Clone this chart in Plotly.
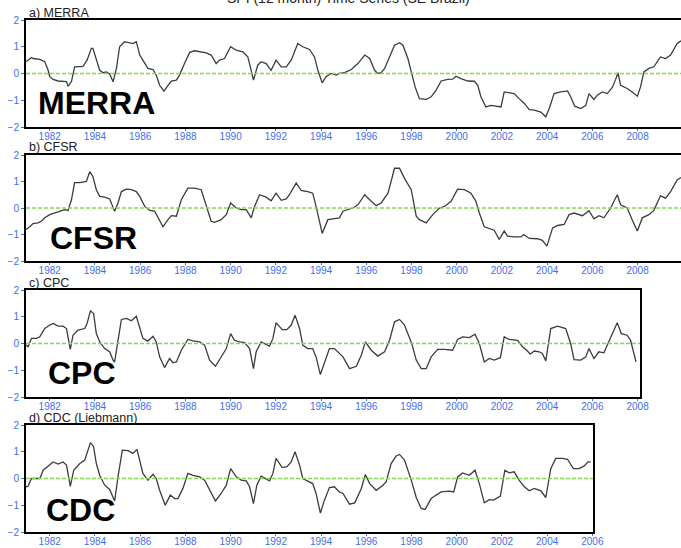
import plotly.graph_objects as go

W, H = 681, 548

# ---------------- data (decimal year, SPI value) ----------------
merra_t = [1980.95, 1981.19, 1981.26, 1981.56, 1981.78, 1981.93, 1982.00, 1982.15, 1982.37, 1982.59,
           1982.74, 1982.81, 1982.96, 1983.10, 1983.33, 1983.47, 1983.65, 1983.84, 1983.91, 1984.06,
           1984.21, 1984.36, 1984.50, 1984.65, 1984.80, 1984.95, 1985.09, 1985.31, 1985.46, 1985.68,
           1985.83, 1985.98, 1986.12, 1986.34, 1986.57, 1986.71, 1986.86, 1987.05, 1987.23, 1987.38,
           1987.60, 1987.74, 1987.96, 1988.19, 1988.41, 1988.63, 1988.92, 1989.14, 1989.36, 1989.51,
           1989.73, 1990.00, 1990.25, 1990.54, 1990.76, 1990.91, 1991.01, 1991.20, 1991.35, 1991.57,
           1991.79, 1992.01, 1992.24, 1992.46, 1992.68, 1992.97, 1993.19, 1993.49, 1993.71, 1993.86,
           1994.05, 1994.22, 1994.44, 1994.67, 1994.80, 1995.04, 1995.34, 1995.63, 1995.93, 1996.15,
           1996.37, 1996.51, 1996.66, 1996.81, 1997.03, 1997.25, 1997.47, 1997.62, 1997.84, 1998.01,
           1998.16, 1998.35, 1998.65, 1998.87, 1999.09, 1999.31, 1999.60, 1999.82, 1999.97, 2000.19,
           2000.49, 2000.78, 2000.93, 2001.07, 2001.29, 2001.51, 2001.74, 2001.96, 2002.10, 2002.32,
           2002.54, 2002.76, 2002.99, 2003.21, 2003.43, 2003.72, 2003.94, 2004.09, 2004.31, 2004.60,
           2004.90, 2005.04, 2005.22, 2005.49, 2005.71, 2005.85, 2006.07, 2006.22, 2006.44, 2006.66,
           2006.88, 2007.03, 2007.13, 2007.25, 2007.54, 2007.76, 2007.99, 2008.13, 2008.28, 2008.50,
           2008.72, 2009.01, 2009.24, 2009.46, 2009.75, 2009.92]
merra_v = [0.44, 0.60, 0.56, 0.53, 0.44, 0.12, -0.12, -0.22, -0.28, -0.29,
           -0.30, -0.48, -0.30, 0.25, 0.25, 0.27, 0.50, 0.94, 0.94, 0.50,
           0.12, 0.03, 0.06, -0.02, -0.31, 0.19, 1.00, 1.19, 1.15, 1.12,
           1.19, 0.69, 0.50, 0.19, 0.15, -0.06, -0.44, -0.66, -0.44, -0.28,
           -0.25, -0.06, 0.37, 0.79, 0.85, 0.81, 0.77, 0.69, 0.37, 0.50,
           0.56, 1.00, 0.87, 0.81, 0.62, 0.12, -0.25, 0.31, 0.44, 0.37,
           0.12, 0.50, 0.25, 0.25, 0.50, 1.12, 1.00, 0.90, 0.62, 0.12,
           -0.35, -0.12, 0.00, -0.06, 0.00, 0.03, 0.15, 0.37, 0.69, 0.56,
           0.12, 0.00, 0.03, 0.19, 0.62, 1.06, 1.15, 1.06, 0.56, 0.00,
           -0.50, -0.94, -0.97, -0.87, -0.62, -0.28, -0.22, -0.21, -0.10, -0.19,
           -0.28, -0.29, -0.44, -0.87, -1.25, -1.19, -1.22, -1.25, -0.69, -0.72,
           -0.75, -0.94, -1.12, -1.35, -1.37, -1.44, -1.62, -1.31, -0.75, -0.69,
           -0.65, -0.87, -1.22, -1.31, -1.19, -0.75, -0.97, -0.81, -0.69, -0.75,
           -0.52, -0.22, 0.03, -0.44, -0.56, -0.69, -0.85, -0.50, 0.06, 0.19,
           0.25, 0.62, 0.56, 0.69, 1.12, 1.22]

cfsr_t = [1980.95, 1981.12, 1981.26, 1981.48, 1981.63, 1981.78, 1982.00, 1982.22, 1982.44, 1982.66,
          1982.81, 1982.96, 1983.10, 1983.33, 1983.62, 1983.77, 1983.91, 1984.06, 1984.21, 1984.43,
          1984.65, 1984.80, 1984.87, 1985.02, 1985.17, 1985.39, 1985.61, 1985.83, 1985.98, 1986.20,
          1986.42, 1986.64, 1986.86, 1987.01, 1987.23, 1987.38, 1987.60, 1987.82, 1988.11, 1988.41,
          1988.70, 1988.92, 1989.14, 1989.29, 1989.58, 1989.81, 1990.00, 1990.25, 1990.47, 1990.69,
          1990.91, 1991.06, 1991.28, 1991.57, 1991.79, 1992.01, 1992.24, 1992.46, 1992.60, 1992.90,
          1993.12, 1993.41, 1993.63, 1993.78, 1994.05, 1994.30, 1994.52, 1994.81, 1994.97, 1995.19,
          1995.41, 1995.63, 1995.93, 1996.15, 1996.44, 1996.66, 1996.96, 1997.25, 1997.47, 1997.69,
          1997.99, 1998.21, 1998.35, 1998.65, 1998.94, 1999.24, 1999.46, 1999.75, 2000.04, 2000.34,
          2000.63, 2000.85, 2001.00, 2001.22, 2001.44, 2001.66, 2001.88, 2002.03, 2002.10, 2002.25,
          2002.54, 2002.84, 2002.96, 2003.21, 2003.57, 2003.79, 2003.99, 2004.24, 2004.46, 2004.75,
          2004.97, 2005.19, 2005.56, 2005.85, 2006.07, 2006.29, 2006.51, 2006.81, 2007.10, 2007.25,
          2007.54, 2007.76, 2007.99, 2008.21, 2008.50, 2008.72, 2009.01, 2009.24, 2009.46, 2009.75,
          2009.92]
cfsr_v = [-0.81, -0.71, -0.59, -0.56, -0.50, -0.37, -0.25, -0.19, -0.12, -0.06,
          -0.09, 0.31, 0.96, 0.96, 1.00, 1.37, 1.19, 0.69, 0.44, 0.41,
          0.34, 0.06, -0.12, 0.19, 0.62, 0.71, 0.69, 0.62, 0.44, 0.06,
          -0.09, -0.12, -0.50, -0.71, -0.44, -0.29, -0.31, 0.31, 0.75, 0.75,
          0.69, 0.12, -0.50, -0.54, -0.44, -0.25, 0.19, 0.00, -0.06, -0.06,
          -0.37, 0.06, 0.50, 0.41, 0.27, 0.56, 0.29, 0.34, 0.50, 0.94,
          0.66, 0.62, 0.56, 0.06, -0.96, -0.44, -0.41, -0.37, -0.12, -0.06,
          0.00, 0.12, 0.50, 0.31, 0.09, 0.19, 0.56, 1.50, 1.50, 1.12,
          0.69, -0.31, -0.44, -0.56, -0.25, 0.00, 0.06, 0.25, 0.71, 0.69,
          0.56, 0.25, -0.19, -0.71, -0.79, -0.84, -1.19, -1.00, -0.87, -1.06,
          -1.09, -1.09, -1.00, -1.15, -1.16, -1.22, -1.44, -0.75, -0.66, -0.62,
          -0.25, -0.19, -0.29, -0.10, -0.41, -0.29, -0.37, 0.00, 0.50, 0.12,
          0.00, -0.44, -0.87, -0.37, -0.25, -0.09, 0.46, 0.37, 0.62, 1.06,
          1.15]

cpc_t = [1980.95, 1981.04, 1981.19, 1981.41, 1981.56, 1981.78, 1982.00, 1982.15, 1982.37, 1982.59,
         1982.74, 1982.91, 1983.03, 1983.25, 1983.55, 1983.65, 1983.80, 1983.94, 1984.06, 1984.21,
         1984.43, 1984.65, 1984.80, 1984.87, 1985.02, 1985.17, 1985.39, 1985.61, 1985.83, 1985.98,
         1986.12, 1986.34, 1986.57, 1986.71, 1986.86, 1987.08, 1987.30, 1987.45, 1987.60, 1987.82,
         1988.11, 1988.33, 1988.63, 1988.85, 1989.07, 1989.33, 1989.58, 1989.81, 1990.00, 1990.17,
         1990.39, 1990.62, 1990.84, 1991.01, 1991.13, 1991.35, 1991.72, 1991.87, 1992.01, 1992.28,
         1992.49, 1992.68, 1992.85, 1993.05, 1993.19, 1993.41, 1993.63, 1993.78, 1993.97, 1994.15,
         1994.37, 1994.59, 1994.81, 1994.97, 1995.26, 1995.56, 1995.78, 1995.96, 1996.22, 1996.51,
         1996.81, 1997.03, 1997.25, 1997.47, 1997.69, 1998.01, 1998.21, 1998.43, 1998.65, 1998.87,
         1999.16, 1999.46, 1999.82, 2000.04, 2000.26, 2000.56, 2000.81, 2001.00, 2001.22, 2001.44,
         2001.66, 2001.93, 2002.10, 2002.32, 2002.69, 2002.91, 2003.13, 2003.25, 2003.43, 2003.65,
         2003.79, 2003.94, 2004.16, 2004.46, 2004.82, 2005.04, 2005.19, 2005.49, 2005.71, 2005.85,
         2006.07, 2006.29, 2006.51, 2006.81, 2007.10, 2007.28, 2007.54, 2007.69, 2007.93]
cpc_v = [-0.06, -0.12, 0.19, 0.19, 0.25, 0.56, 0.69, 0.75, 0.65, 0.65,
         0.56, -0.22, 0.31, 0.50, 0.56, 0.75, 1.22, 1.12, 0.37, 0.06,
         -0.19, -0.31, -0.62, -0.69, 0.12, 0.90, 0.94, 0.85, 1.02, 0.56,
         0.19, 0.09, 0.27, 0.06, -0.50, -0.90, -0.56, -0.72, -0.69, -0.25,
         0.15, 0.10, 0.06, -0.06, -0.62, -0.85, -0.50, -0.19, 0.37, 0.12,
         0.06, 0.03, -0.19, -0.94, -0.31, 0.06, -0.10, 0.19, 0.78, 0.52,
         0.52, 0.69, 1.06, 0.56, -0.06, -0.19, -0.19, -0.50, -1.16, -0.75,
         -0.19, -0.19, -0.35, -0.50, -0.94, -0.85, -0.44, 0.06, -0.25, -0.47,
         -0.31, 0.12, 0.81, 0.90, 0.69, 0.00, -0.62, -0.94, -0.94, -0.50,
         -0.22, -0.22, -0.25, 0.15, 0.25, 0.22, 0.35, 0.00, -0.69, -0.56,
         -0.62, -0.53, 0.25, 0.15, 0.12, -0.12, -0.28, -0.40, -0.28, -0.31,
         -0.37, -0.65, 0.56, 0.65, 0.56, 0.00, -0.60, -0.62, -0.50, -0.19,
         -0.56, -0.31, -0.35, 0.25, 0.78, 0.37, 0.31, 0.12, -0.69]

cdc_t = [1980.95, 1981.04, 1981.19, 1981.41, 1981.56, 1981.71, 1982.00, 1982.15, 1982.37, 1982.59,
         1982.74, 1982.91, 1983.06, 1983.33, 1983.55, 1983.65, 1983.80, 1983.94, 1984.06, 1984.21,
         1984.43, 1984.65, 1984.87, 1985.02, 1985.21, 1985.46, 1985.68, 1985.86, 1985.98, 1986.12,
         1986.34, 1986.57, 1986.71, 1986.86, 1987.11, 1987.33, 1987.52, 1987.67, 1987.89, 1988.11,
         1988.33, 1988.63, 1988.85, 1989.07, 1989.33, 1989.58, 1989.81, 1990.00, 1990.25, 1990.47,
         1990.69, 1990.84, 1991.01, 1991.16, 1991.35, 1991.72, 1991.87, 1992.01, 1992.28, 1992.49,
         1992.68, 1992.85, 1993.05, 1993.19, 1993.41, 1993.63, 1993.78, 1993.97, 1994.15, 1994.37,
         1994.59, 1994.81, 1994.97, 1995.26, 1995.49, 1995.78, 1995.96, 1996.15, 1996.44, 1996.74,
         1996.88, 1997.10, 1997.32, 1997.47, 1997.69, 1997.99, 1998.21, 1998.43, 1998.60, 1998.87,
         1999.09, 1999.31, 1999.68, 1999.87, 2000.04, 2000.26, 2000.56, 2000.81, 2001.00, 2001.22,
         2001.44, 2001.63, 2001.93, 2002.13, 2002.32, 2002.54, 2002.76, 2002.99, 2003.21, 2003.43,
         2003.72, 2003.94, 2004.16, 2004.38, 2004.68, 2004.90, 2005.16, 2005.41, 2005.63, 2005.81,
         2005.93]
cdc_v = [-0.31, -0.29, 0.00, 0.00, 0.00, 0.31, 0.50, 0.62, 0.54, 0.62,
         0.50, -0.29, 0.31, 0.56, 0.69, 0.94, 1.34, 1.19, 0.56, 0.12,
         -0.25, -0.41, -0.84, 0.06, 1.06, 1.04, 0.94, 1.09, 0.69, 0.19,
         -0.06, 0.16, 0.00, -0.44, -1.00, -0.62, -0.75, -0.75, -0.37, 0.19,
         0.12, 0.06, -0.06, -0.44, -0.84, -0.56, -0.25, 0.37, 0.06, -0.06,
         -0.09, -0.31, -0.94, -0.25, 0.09, -0.09, 0.19, 0.75, 0.41, 0.44,
         0.62, 1.00, 0.50, 0.00, -0.09, -0.19, -0.56, -1.29, -0.81, -0.34,
         -0.31, -0.50, -0.56, -0.96, -0.91, -0.37, 0.15, -0.19, -0.44, -0.25,
         -0.12, 0.56, 0.84, 0.90, 0.69, -0.06, -0.71, -1.12, -1.16, -0.75,
         -0.62, -0.50, -0.47, -0.50, 0.06, 0.21, 0.12, 0.31, -0.19, -0.91,
         -0.79, -0.81, -0.66, 0.31, 0.21, 0.25, -0.06, -0.31, -0.46, -0.37,
         -0.46, -0.71, 0.37, 0.75, 0.75, 0.72, 0.37, 0.37, 0.46, 0.62,
         0.62]

year_ticks = [1982, 1984, 1986, 1988, 1990, 1992, 1994, 1996, 1998, 2000, 2002, 2004, 2006, 2008]
y_ticks = [-2, -1, 0, 1, 2]
y_labels = ["\u22122", "\u22121", "0", "1", "2"]

panel_titles = ["a) MERRA", "b) CFSR", "c) CPC", "d) CDC (Liebmann)"]
big_labels = ["MERRA", "CFSR", "CPC", "CDC"]
main_title = "SPI (12 month) Time Series (SE Brazil)"

# ---------------- layout geometry (pixels) ----------------
series = [(merra_t, merra_v), (cfsr_t, cfsr_v), (cpc_t, cpc_v), (cdc_t, cdc_v)]
left_px = 26
right_px = [681, 681, 640, 593]
top_px = [20, 155, 290, 425]
bot_px = [127, 261, 397, 532]
x0 = 1980.95
px_per_year = 655 / (2009.92 - 1980.95)
label_px = [(36, 103), (48, 238), (46, 373), (44, 510)]

TICKBLUE = "#3f6ef0"
fig = go.Figure()
annotations = []
for i, (t, v) in enumerate(series):
    xa = "x" if i == 0 else f"x{i+1}"
    ya = "y" if i == 0 else f"y{i+1}"
    x1 = x0 + (right_px[i] - left_px) / px_per_year
    fig.add_trace(go.Scatter(x=t, y=v, mode="lines", xaxis=xa, yaxis=ya,
                             line=dict(color="#3c3c3c", width=1.3), showlegend=False,
                             hoverinfo="skip"))
    fig.add_trace(go.Scatter(x=[x0, x1], y=[0, 0], mode="lines", xaxis=xa, yaxis=ya,
                             line=dict(color="#84d94a", width=1.5, dash="4px,2px"),
                             showlegend=False, hoverinfo="skip"))
    xkey = "xaxis" if i == 0 else f"xaxis{i+1}"
    ykey = "yaxis" if i == 0 else f"yaxis{i+1}"
    fig.update_layout(**{
        xkey: dict(domain=[left_px / W, right_px[i] / W], range=[x0, x1], anchor=ya,
                   tickvals=year_ticks, ticktext=[str(y) for y in year_ticks],
                   ticks="outside", ticklen=2, tickcolor=TICKBLUE, tickwidth=1,
                   ticklabelstandoff=-3,
                   tickfont=dict(family="Liberation Sans, Arial", size=10, color=TICKBLUE),
                   showgrid=False, zeroline=False, showline=True, linecolor="black",
                   linewidth=2, mirror=True, fixedrange=True, automargin=False),
        ykey: dict(domain=[1 - bot_px[i] / H, 1 - top_px[i] / H], range=[-2, 2], anchor=xa,
                   tickvals=y_ticks, ticktext=y_labels,
                   ticks="outside", ticklen=3, tickcolor=TICKBLUE, tickwidth=1,
                   tickfont=dict(family="Liberation Sans, Arial", size=10, color=TICKBLUE),
                   showgrid=False, zeroline=False, showline=True, linecolor="black",
                   linewidth=2, mirror=True, fixedrange=True, automargin=False),
    })
    annotations.append(dict(text=panel_titles[i], xref="paper", yref="paper",
                            x=27 / W, y=1 - (top_px[i] - 7.5) / H, xanchor="left", yanchor="middle",
                            showarrow=False,
                            font=dict(family="Liberation Sans, Arial", size=12.5, color="#222")))
    annotations.append(dict(text="<b>" + big_labels[i] + "</b>", xref="paper", yref="paper",
                            x=label_px[i][0] / W, y=1 - label_px[i][1] / H,
                            xanchor="left", yanchor="middle", showarrow=False,
                            font=dict(family="Liberation Sans, Arial", size=32, color="black")))

annotations.append(dict(text=main_title, xref="paper", yref="paper", x=348 / W, y=1.003,
                        xanchor="center", yanchor="middle", showarrow=False,
                        font=dict(family="Liberation Sans, Arial", size=14, color="#222")))

fig.update_layout(width=W, height=H, margin=dict(l=0, r=0, t=0, b=0, autoexpand=False),
                  paper_bgcolor="white", plot_bgcolor="white",
                  annotations=annotations, showlegend=False)

fig.write_html("out.html", config={"displayModeBar": False, "staticPlot": True},
               post_script="document.body.style.margin='0';document.body.style.overflow='hidden';")
